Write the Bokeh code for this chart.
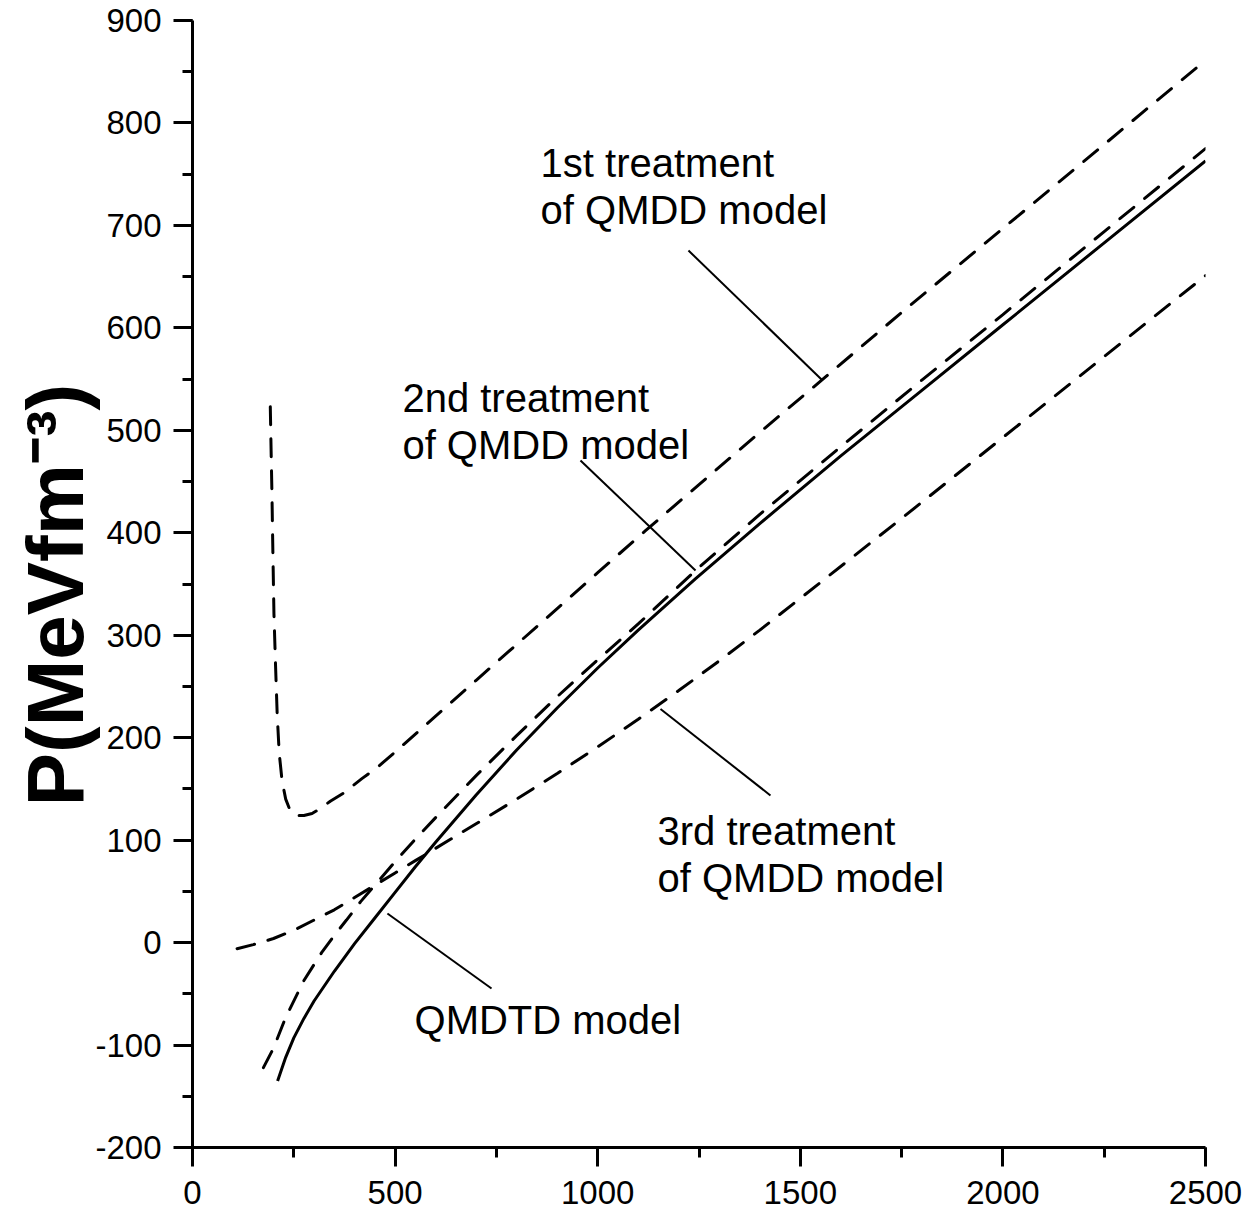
from bokeh.plotting import figure
from bokeh.models import Range1d, SingleIntervalTicker, Label, PrintfTickFormatter
from bokeh.embed import file_html
from bokeh.resources import INLINE

# ---- data ----
first_x = [192, 194, 196, 198, 201, 205, 209, 214, 221, 230, 242, 258, 275, 295, 316, 340, 373, 418, 456,
           500, 600, 700, 800, 900, 1000, 1118, 1250, 1400, 1550, 1750, 2000, 2241, 2350, 2500]
first_y = [523, 480, 440, 390, 321, 270, 223, 185, 158, 140, 128, 124, 124, 126, 131, 138, 146, 160, 171,
           186, 221, 256, 291, 326, 361, 402, 447, 498, 548, 615, 697, 776, 812, 861]

second_x = [175, 200, 230, 275, 320, 350, 380, 415, 450, 500, 550, 600, 700, 800, 900, 1000, 1100, 1241,
            1400, 1600, 1800, 2000, 2250, 2500]
second_y = [-122, -103, -73, -37, -9, 7, 22, 40, 56, 79, 101, 122, 163, 202, 240, 276, 311, 363,
            418, 484, 549, 613, 694, 775]

third_x = [110, 150, 200, 250, 300, 350, 400, 450, 500, 550, 600, 700, 800, 900, 1000, 1100, 1200, 1300,
           1400, 1500, 1750, 2000, 2250, 2500]
third_y = [-6, -2, 4, 12, 22, 32, 44, 56, 68, 80, 92, 116, 140, 165, 191, 218, 246, 275,
           305, 336, 414, 493, 572, 651]

qmdtd_x = [210, 230, 250, 275, 300, 350, 400, 450, 500, 550, 600, 700, 800, 900, 1000, 1100, 1241,
           1400, 1600, 1800, 2000, 2250, 2500]
qmdtd_y = [-135, -112, -93, -74, -57, -28, -1, 24, 49, 74, 98, 144, 188, 229, 268, 305, 355,
           409, 475, 539, 603, 683, 763]

x_tick_interval = 500
y_tick_interval = 100

# ---- figure ----
p = figure(width=1245, height=1212, output_backend="svg", toolbar_location=None,
           x_range=Range1d(0, 2500), y_range=Range1d(-200, 900),
           min_border_left=192, min_border_right=40, min_border_top=20, min_border_bottom=65)
p.outline_line_color = None
p.grid.visible = False
p.background_fill_color = "white"
p.border_fill_color = "white"

p.xaxis.ticker = SingleIntervalTicker(interval=x_tick_interval, num_minor_ticks=2)
p.yaxis.ticker = SingleIntervalTicker(interval=y_tick_interval, num_minor_ticks=2)
for ax in (p.xaxis[0], p.yaxis[0]):
    ax.formatter = PrintfTickFormatter(format="%d")
    ax.axis_line_width = 3
    ax.axis_line_color = "black"
    ax.major_tick_line_width = 3
    ax.minor_tick_line_width = 3
    ax.major_tick_out = 19
    ax.major_tick_in = 0
    ax.minor_tick_out = 10
    ax.minor_tick_in = 0
    ax.major_label_text_font = "Liberation Sans"
    ax.major_label_text_font_size = "33px"
    ax.major_label_text_color = "black"
p.xaxis[0].major_label_standoff = 14
p.yaxis[0].major_label_standoff = 12

yax = p.yaxis[0]
yax.axis_label = "P(MeVfm\u207b\u00b3)\u00a0"
yax.axis_label_text_font = "Liberation Sans"
yax.axis_label_text_font_style = "bold"
yax.axis_label_text_font_size = "80px"
yax.axis_label_text_color = "black"
yax.axis_label_standoff = -8

lw = 3
dash = "18 14"
p.line(first_x, first_y, line_width=lw, color="black", line_dash=dash, line_cap="round")
p.line(second_x, second_y, line_width=lw, color="black", line_dash=dash, line_cap="round")
p.line(third_x, third_y, line_width=lw, color="black", line_dash=dash, line_cap="round")
p.line(qmdtd_x, qmdtd_y, line_width=lw, color="black")

# leader lines
p.segment(x0=[1224, 957.5, 1155, 481], y0=[675.5, 470.6, 228, 28.4],
          x1=[1555, 1241.4, 1426.4, 738], y1=[548.7, 363.2, 143.6, -44.8],
          line_width=2, color="black")

def add_text(x, y, t, size="40px"):
    p.add_layout(Label(x=x, y=y, text=t, text_font="Liberation Sans", text_font_size=size,
                       text_baseline="middle", text_align="left", text_color="black"))

add_text(859, 760.5, "1st treatment")
add_text(859, 714.6, "of QMDD model")
add_text(518, 532, "2nd treatment")
add_text(518, 485.2, "of QMDD model")
add_text(1147.6, 109.4, "3rd treatment")
add_text(1147.6, 63.5, "of QMDD model")
add_text(548, -76, "QMDTD model")

open("out.html", "w").write(file_html(p, INLINE))
